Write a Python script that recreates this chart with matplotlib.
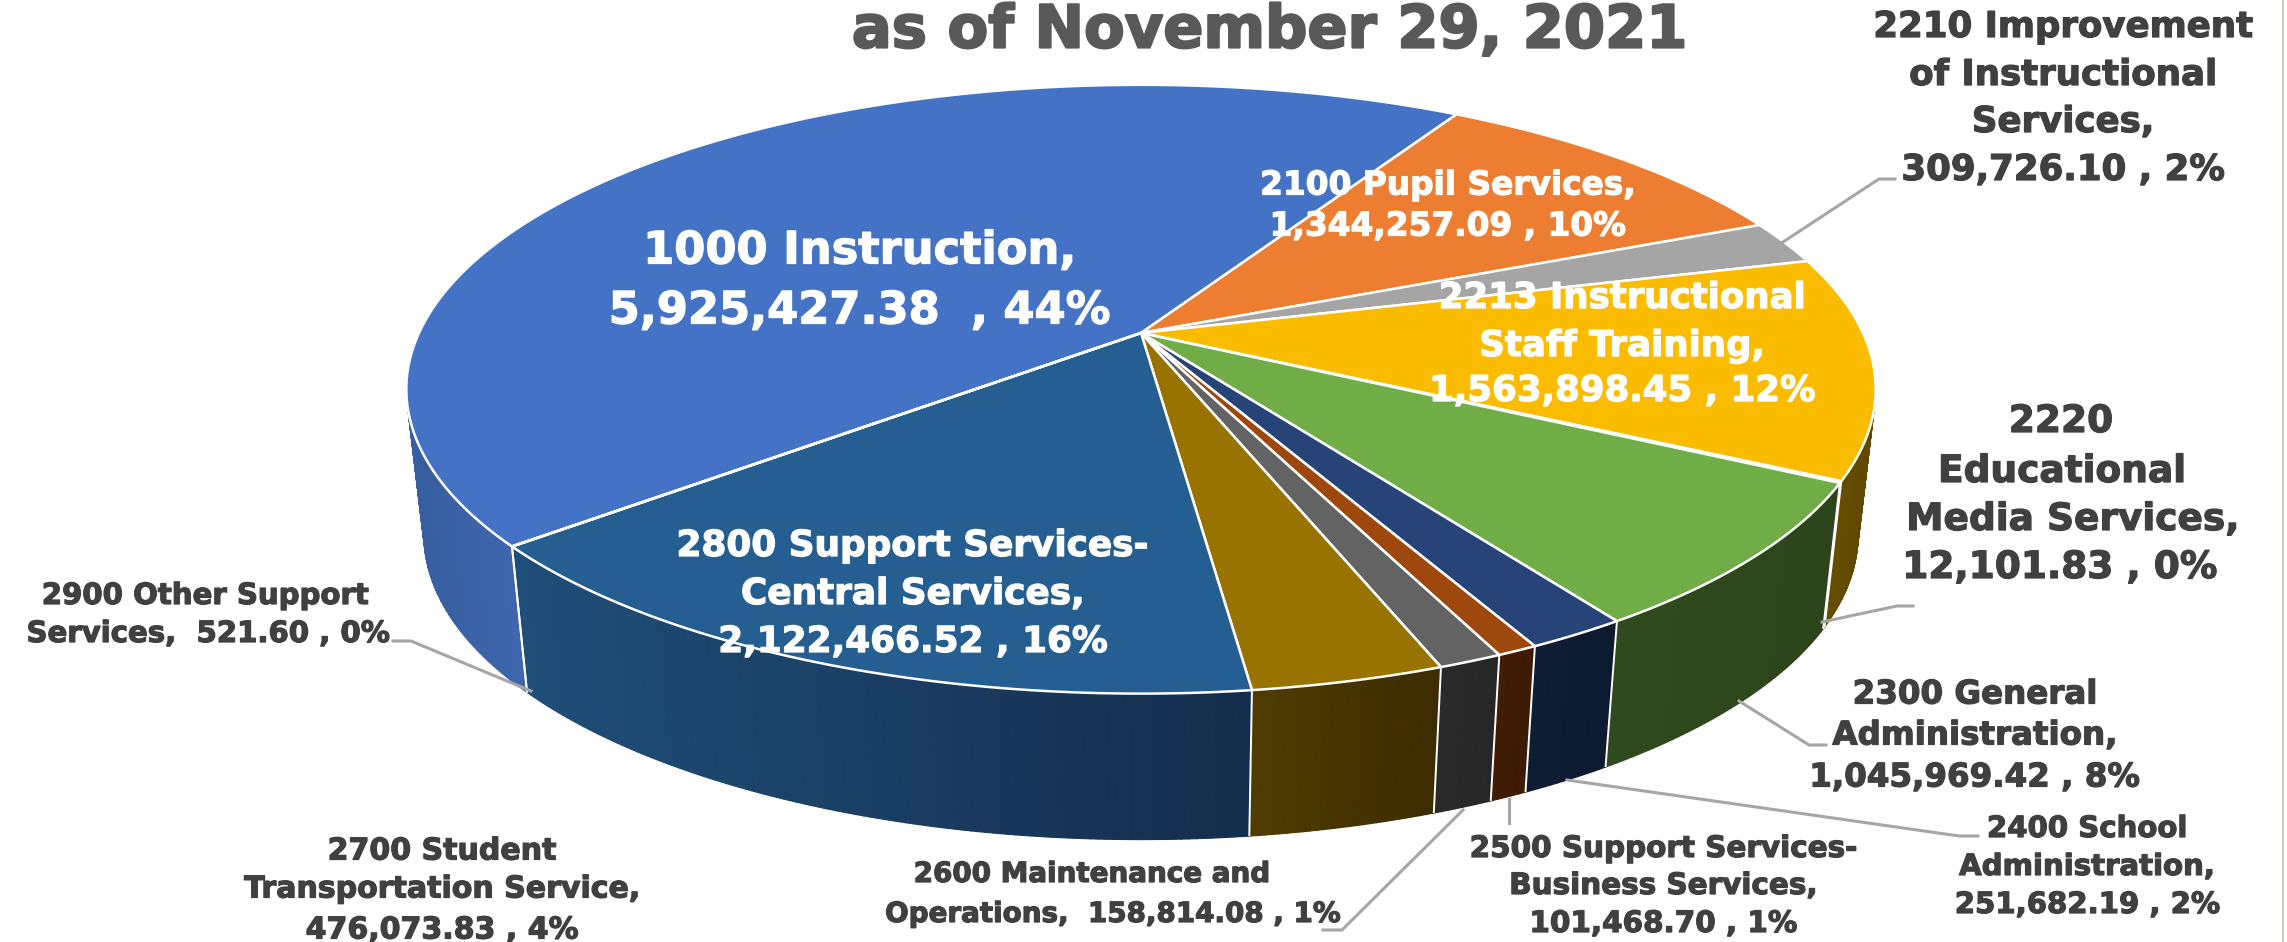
import numpy as np
import matplotlib
matplotlib.use("Agg")
import matplotlib.pyplot as plt
import matplotlib.patheffects as pe
from matplotlib.patches import Polygon
from matplotlib.collections import PolyCollection

categories = ["1000 Instruction", "2100 Pupil Services", "2210 Improvement of Instructional Services",
              "2213 Instructional Staff Training", "2220 Educational Media Services",
              "2300 General Administration", "2400 School Administration",
              "2500 Support Services-Business Services", "2600 Maintenance and Operations",
              "2700 Student Transportation Service", "2800 Support Services-Central Services",
              "2900 Other Support Services"]
values = [5925427.38, 1344257.09, 309726.10, 1563898.45, 12101.83, 1045969.42,
          251682.19, 101468.70, 158814.08, 476073.83, 2122466.52, 521.60]
top_colors = ["#4472C4", "#ED7D31", "#A5A5A5", "#FBBC00", "#5B9BD5", "#70AD47",
              "#264478", "#9E480E", "#636363", "#997300", "#255E91", "#43682B"]
wall_left = ["#375E9F", "#843C0C", "#555555", "#6B5200", "#2E5F88", "#2F4A1C",
             "#0E1C34", "#401D04", "#2A2A2A", "#4F3C00", "#1F4E79", "#2A4018"]
wall_right = ["#4169B3", "#843C0C", "#555555", "#5F4800", "#2E5F88", "#2C4419",
              "#0C1A30", "#3E1C03", "#262626", "#3D2C00", "#142D4C", "#2A4018"]

title = "as of November 29, 2021"
labels = [
    (["1000 Instruction,", "5,925,427.38  , 44%"], [860, 860], [251, 311], 32.2, "white"),
    (["2100 Pupil Services,", "1,344,257.09 , 10%"], [1448, 1448], [185, 226], 23.6, "white"),
    (["2210 Improvement", "of Instructional", "Services,", "309,726.10 , 2%"], [2063] * 4, [27, 75, 122, 170], 25.6, "#404040"),
    (["2213 Instructional", "Staff Training,", "1,563,898.45 , 12%"], [1622] * 3, [298, 346, 391], 25.6, "white"),
    (["2220", "Educational", "Media Services,", "12,101.83 , 0%"], [2061, 2062, 2073, 2060], [422, 472, 520, 568], 27, "#404040"),
    (["2300 General", "Administration,", "1,045,969.42 , 8%"], [1975] * 3, [695, 736, 778], 23.4, "#404040"),
    (["2400 School", "Administration,", "251,682.19 , 2%"], [2087] * 3, [829, 867, 905], 21, "#404040"),
    (["2500 Support Services-", "Business Services,", "101,468.70 , 1%"], [1663] * 3, [849, 886, 924], 21.2, "#404040"),
    (["2600 Maintenance and", "Operations,  158,814.08 , 1%"], [1092, 1113], [874, 914], 20, "#404040"),
    (["2700 Student", "Transportation Service,", "476,073.83 , 4%"], [442] * 3, [851, 889, 930], 21.6, "#404040"),
    (["2800 Support Services-", "Central Services,", "2,122,466.52 , 16%"], [913] * 3, [546, 594, 642], 25.8, "white"),
    (["2900 Other Support", "Services,  521.60 , 0%"], [205, 208], [596, 634], 21, "#404040"),
]
leaders = [
    [(1783, 242), (1879, 179), (1895, 179)],
    [(1822, 622), (1897, 606), (1913, 606)],
    [(1739, 701), (1809, 745), (1826, 745)],
    [(1567, 780), (1959, 836), (1978, 836)],
    [(1509, 799), (1509, 823)],
    [(1463, 810), (1342, 930), (1323, 930)],
    [(531, 691), (411, 641), (393, 641)],
]

W, H = 2287, 942
CX, CY, CY2 = 1141.0, 333.0, 479.0
A, B, K = 722.0, 294.0, 0.1847
SX, SY = 0.976, 1.0
START = 230.2

fig = plt.figure(figsize=(W / 100, H / 100), dpi=100, facecolor="white")
ax = fig.add_axes([0, 0, 1, 1])
ax.set_xlim(0, W)
ax.set_ylim(H, 0)
ax.axis("off")


def project(theta_deg, bottom=False):
    t = np.radians(theta_deg)
    x, y = np.sin(t), np.cos(t)
    w = 1 + K * y
    if bottom:
        return CX + SX * A * x / w, CY2 - SY * B * y / w
    return CX + A * x / w, CY - B * y / w


total = sum(values)
edges = START + np.concatenate([[0], np.cumsum(values)]) / total * 360


def lerp(c0, c1, f):
    a, b = np.array(matplotlib.colors.to_rgb(c0)), np.array(matplotlib.colors.to_rgb(c1))
    return tuple(a + (b - a) * f)


# walls
for i in range(len(values)):
    a0, a1 = edges[i], edges[i + 1]
    n = max(2, int((a1 - a0) * 2))
    th = np.linspace(a0, a1, n + 1)
    tx, ty = project(th)
    bx, by = project(th, True)
    polys, cols = [], []
    xmid = (tx[:-1] + tx[1:]) / 2
    vis = (np.cos(np.radians((th[:-1] + th[1:]) / 2)) < 0.45)
    if vis.any():
        x0, x1 = xmid[vis].min(), xmid[vis].max()
    else:
        x0, x1 = xmid.min(), xmid.max()
    for j in range(n):
        polys.append([(tx[j], ty[j]), (tx[j + 1], ty[j + 1]), (bx[j + 1], by[j + 1]), (bx[j], by[j])])
        f = np.clip((xmid[j] - x0) / max(x1 - x0, 1), 0, 1)
        cols.append(lerp(wall_left[i], wall_right[i], f))
    ax.add_collection(PolyCollection(polys, facecolors=cols, edgecolors=cols, linewidths=0.8, zorder=2))

# white wall seams on the front half
for e in edges[:-1]:
    if np.cos(np.radians(e)) < 0.1:
        xa, ya = project(e)
        xb, yb = project(e, True)
        ax.plot([xa, xb], [ya, yb], color="white", lw=1.4, zorder=3, solid_capstyle="butt")

# top faces
for i in range(len(values)):
    th = np.linspace(edges[i], edges[i + 1], max(2, int((edges[i + 1] - edges[i]) * 3)))
    x, y = project(th)
    pts = np.column_stack([np.r_[CX, x], np.r_[CY, y]])
    ax.add_patch(Polygon(pts, closed=True, facecolor=top_colors[i], edgecolor="white",
                         linewidth=1.8, joinstyle="round", zorder=4))

# leader lines
for seg in leaders:
    xs, ys = zip(*seg)
    ax.plot(xs, ys, color="#A6A6A6", lw=2.2, zorder=5, solid_joinstyle="miter")

ax.plot([2283, 2283], [0, H], color="#C9C2B8", lw=1.2, zorder=1)

ax.text(1269, 31, title, ha="center", va="center", fontsize=42.6, fontweight="bold",
        color="#595959", family="DejaVu Sans", zorder=6,
        path_effects=[pe.withStroke(linewidth=1.6, foreground="#595959")])
for lines, xcs, ys, fs, col in labels:
    for s, xc, y in zip(lines, xcs, ys):
        ax.text(xc, y, s, ha="center", va="center", fontsize=fs, fontweight="bold",
                color=col, family="DejaVu Sans", zorder=6,
                path_effects=[pe.withStroke(linewidth=0.9, foreground=col)])

fig.savefig("out.png", dpi=100)
